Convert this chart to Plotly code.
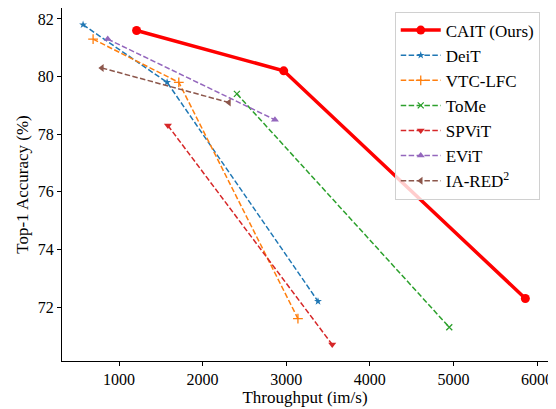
import plotly.graph_objects as go

# values
names = ["CAIT (Ours)", "DeiT", "VTC-LFC", "ToMe", "SPViT", "EViT", "IA-RED<sup>2</sup>"]
cait_x = [1210, 2970, 5860]
cait_y = [81.6, 80.2, 72.3]
deit_x = [570, 1575, 3380]
deit_y = [81.8, 79.8, 72.2]
vtc_x = [690, 1715, 3140]
vtc_y = [81.3, 79.8, 71.6]
tome_x = [2410, 4950]
tome_y = [79.4, 71.3]
spvit_x = [1585, 3550]
spvit_y = [78.3, 70.7]
evit_x = [865, 2865]
evit_y = [81.3, 78.5]
iared_x = [795, 2315]
iared_y = [80.3, 79.1]

colors = ["#ff0000", "#1f77b4", "#ff7f0e", "#2ca02c", "#d62728", "#9467bd", "#8c564b"]
symbols = ["circle", "star", "cross-thin", "x-thin", "triangle-down", "triangle-up", "triangle-left"]
msizes = [9, 6, 7, 6, 7, 7, 7]

series = [(cait_x, cait_y), (deit_x, deit_y), (vtc_x, vtc_y), (tome_x, tome_y),
          (spvit_x, spvit_y), (evit_x, evit_y), (iared_x, iared_y)]

fig = go.Figure()
for i, (xs, ys) in enumerate(series):
    if i == 0:
        line = dict(color=colors[i], width=3.5)
    else:
        line = dict(color=colors[i], width=1.5, dash="5.5px,2.4px")
    fig.add_trace(go.Scatter(
        x=xs, y=ys, mode="lines+markers", name=names[i], line=line,
        marker=dict(symbol=symbols[i], size=msizes[i], color=colors[i],
                    line=dict(color=colors[i], width=1.3 if i in (2, 3) else 0)),
    ))

# page body adds an 8px offset, so the figure is 8px smaller than the window
font = "Liberation Serif, Times New Roman, serif"
fig.update_layout(
    width=548, height=401,
    margin=dict(l=54, r=8, t=0, b=48),
    paper_bgcolor="white", plot_bgcolor="white",
    font=dict(family=font, size=16, color="black"),
    legend=dict(x=0.983, y=0.99, xanchor="right", yanchor="top",
                bgcolor="rgba(255,255,255,0.8)", bordercolor="#d0d0d0", borderwidth=1,
                font=dict(size=17, family=font), tracegroupgap=0, itemwidth=40),
    showlegend=True,
)
fig.update_xaxes(
    range=[318, 6131], tickvals=[1000, 2000, 3000, 4000, 5000, 6000],
    title=dict(text="Throughput (im/s)", font=dict(size=17), standoff=2),
    showline=True, linecolor="black", linewidth=1, mirror=True, automargin=False,
    ticks="outside", ticklen=4, tickcolor="black", showgrid=False, zeroline=False,
    tickfont=dict(size=16),
)
fig.update_yaxes(
    range=[70.13, 82.38], tickvals=[72, 74, 76, 78, 80, 82],
    title=dict(text="Top-1 Accuracy (%)", font=dict(size=17), standoff=4),
    showline=True, linecolor="black", linewidth=1, mirror=True, automargin=False,
    ticks="outside", ticklen=4, tickcolor="black", showgrid=False, zeroline=False,
    tickfont=dict(size=16),
)

fig.write_html("out.html")
